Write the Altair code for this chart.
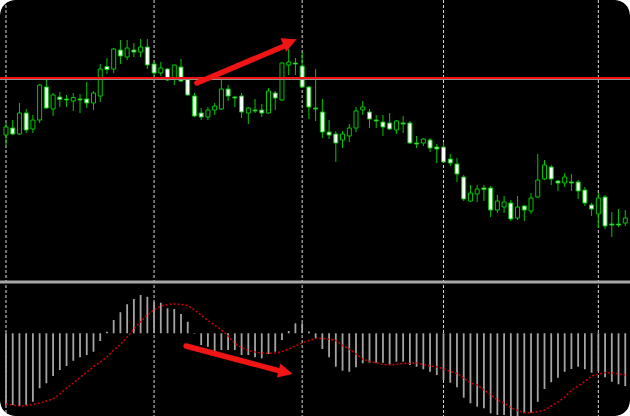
import altair as alt
import pandas as pd

# ---- price bars (arbitrary price units) ----
opens = [165, 172, 166, 187, 171, 180, 213, 191, 203, 201, 199, 201, 201, 197, 204, 233.5, 231, 250, 243, 250,
         248, 253, 236, 227, 231, 221, 233, 221, 204, 187, 183, 190, 191, 211, 203, 204, 187, 190, 190, 187,
         207, 200, 235, 237, 234, 213, 192, 188, 168, 166, 160, 164, 172, 190, 188, 180, 178, 177, 170, 177,
         177, 157, 157, 160, 153, 153, 141, 136, 123, 99, 106, 112, 112, 90, 93, 97, 82, 94, 89, 103,
         121, 133, 119, 117, 118, 118, 110, 95, 86, 103, 76, 76, 77]
highs = [177, 180, 197, 191, 185, 216, 221, 207, 208, 205, 207, 206, 218, 209, 236, 242, 252, 260, 260, 257,
         261, 261, 238, 238, 232, 235.5, 241, 222, 207, 192, 193, 197, 221, 215, 204, 207, 193, 201, 196, 212,
         209, 237.5, 251, 242, 248, 214, 231, 201, 180, 169, 169, 176, 193, 199, 191, 185, 185, 187, 180, 184,
         179, 164, 162, 162, 156, 158, 146, 142, 125, 115, 115, 115, 114, 105, 104, 100, 104, 95, 107, 146,
         140, 135, 120, 127, 126, 120, 113, 97, 107, 105, 88, 91, 90]
lows = [154, 165, 165, 167, 167, 177, 191, 184, 193, 193, 189, 187, 192, 190, 198, 226, 227, 236, 240, 243,
        243, 231, 223, 224, 219, 215, 218, 204, 183, 180, 180, 185, 190, 199, 193, 182, 176, 187, 183, 186.5,
        190, 199, 225, 225, 212, 181, 179, 162, 161, 138, 152, 158, 168, 185, 172, 172, 164, 170, 166, 167,
        156, 152, 154, 148, 137, 137.5, 134, 118, 99, 98, 98, 99, 83, 87, 87, 79, 80, 79, 86, 102,
        120, 115, 109, 113, 109, 101, 94, 84, 72, 71, 63, 73, 74]
closes = [173, 166, 187, 170, 180, 215, 192, 205, 200.5, 200, 202.5, 200, 197, 207, 231, 230.5, 251, 244, 252, 248,
          253, 235, 227, 232, 220, 235, 219, 205, 184, 183, 190, 194, 211, 204, 202, 188, 192, 189, 187, 209,
          202, 237, 238, 236, 213, 193, 191, 168, 165, 157, 166, 172, 189, 193, 181, 179, 173, 171, 179, 176,
          157, 156, 161, 152, 151, 138, 137, 126, 101, 107, 111, 110.5, 90, 99, 98, 81, 93, 90, 102, 120,
          135, 121, 117, 123, 117, 109, 97, 91, 102, 74, 75, 75, 82]

# ---- MACD oscillator ----
macd_hist = [-71.7, -71.7, -72.7, -71.7, -68.4, -55, -50, -42.7, -36.7, -32.7, -27.4, -24, -21.7, -18.4, -7.7,
             1.6, 13.3, 21, 29, 34.3, 38.3, 36.6, 31.6, 30.6, 25, 24.3, 19.3, 11.6, -0.4, -11.7,
             -13.4, -17.7, -16.7, -16.7, -16.7, -21.7, -21.7, -24, -25, -20.7, -18.4, -6.7, 2.3, 10, 10,
             1.8, -5, -15.7, -24, -33.4, -37.4, -38.4, -34, -30, -29.4, -29.4, -29.4, -31, -28.4, -28.4,
             -31.7, -33.4, -36, -38.4, -41.7, -46.7, -49.4, -54, -64.4, -70, -73.4, -75, -80, -81.7, -81.7,
             -84, -84, -80, -79.4, -68.4, -55.7, -49, -44.4, -38.4, -35.7, -33.4, -36, -39.4, -37.7, -44,
             -48.4, -51, -52.7]
macd_signal = [-70.7, -71.7, -72.7, -72.2, -71.2, -69.7, -67.7, -65.7, -60.7, -54.7, -49.7, -44.2, -38.7, -33.4, -28.7,
               -23.7, -16.7, -11.2, -3.7, 4.3, 11.8, 18.3, 23.3, 27.3, 28.8, 29.3, 29, 27.8, 23.3, 18.3,
               12.8, 8.3, 3.3, -2.7, -10.2, -14.2, -17.2, -18.7, -19.7, -20, -19.7, -18.2, -15.7, -12.7, -9.7,
               -7.2, -5.2, -5.2, -5.9, -7.2, -12.2, -15.7, -20.7, -25.7, -28.2, -29.4, -31.2, -31.7, -31, -30.2,
               -29.9, -29.7, -31.2, -32.7, -33.5, -35.7, -38.2, -40.2, -44.7, -49.7, -51.7, -56.7, -61.7, -66.7, -69.7,
               -74.2, -77.2, -79.4, -79.4, -78.2, -76.7, -72.7, -68.7, -63.7, -57.2, -52.7, -48.2, -42.7, -40.7, -39.4,
               -39.4, -40.7, -41.7]

# session separators (bar numbers) and the horizontal price level
session_starts = [0, 22, 44, 65, 88]
price_level = 222

# trend arrows: price-panel arrow and oscillator-panel arrow
up_arrow_bar = [28.36, 41.37]
up_arrow_price = [217, 254]
up_head = {"bar": 42.19, "price": 257.9, "angle": 336.5}
down_arrow_bar = [26.75, 40.64]
down_arrow_value = [-12.7, -37.5]
down_head = {"bar": 41.55, "value": -39.0, "angle": 14}

GREEN = "#00c800"
RED = "#f01515"
W, H = 630, 416

bars = pd.DataFrame({
    "bar": list(range(len(opens))),
    "open": opens, "high": highs, "low": lows, "close": closes,
    "hist": macd_hist, "signal": macd_signal,
})

x_scale = alt.Scale(domain=[-0.146, 91.96], nice=False, zero=False)
price_scale = alt.Scale(domain=[20, 300], range=[280, 0], nice=False, zero=False)
osc_scale = alt.Scale(domain=[-82.7, 48.3], range=[416, 285], nice=False, zero=False)

X = alt.X("bar:Q", scale=x_scale, axis=None)


def price_y(field):
    return alt.Y(field, type="quantitative", scale=price_scale, axis=None)


def osc_y(field):
    return alt.Y(field, type="quantitative", scale=osc_scale, axis=None)


one_row = pd.DataFrame({"k": [0]})

grid = alt.Chart(pd.DataFrame({"bar": session_starts})).mark_rule(
    color="#d8d8d8", strokeDash=[3, 2], strokeWidth=1
).encode(x=X, y=alt.value(0), y2=alt.value(H))

separator = alt.Chart(one_row).mark_rule(color="#a8a8a8", strokeWidth=3).encode(
    x=alt.value(0), x2=alt.value(W), y=alt.value(282)
)

wicks = alt.Chart(bars).mark_rule(color=GREEN, strokeWidth=1, clip=True).encode(
    x=X, y=price_y("low"), y2="high"
)

bodies = alt.Chart(bars).mark_bar(size=4, stroke=GREEN, strokeWidth=1, clip=True).encode(
    x=X,
    y=price_y("open"),
    y2="close",
    fill=alt.condition("datum.close > datum.open", alt.value("black"), alt.value("white")),
)

level_df = pd.DataFrame({"price": [price_level]})
level_shadow = alt.Chart(pd.DataFrame({"price": [price_level - 1.5]})).mark_rule(
    color="#909090", strokeWidth=1
).encode(x=alt.value(0), x2=alt.value(W), y=price_y("price"))
level_line = alt.Chart(level_df).mark_rule(color=RED, strokeWidth=2).encode(
    x=alt.value(0), x2=alt.value(W), y=price_y("price")
)

hist = alt.Chart(bars).mark_rule(color="#a4a4a4", strokeWidth=1.8, clip=True).encode(
    x=X, y=osc_y("hist"), y2=alt.datum(0)
)

signal = alt.Chart(bars).mark_line(
    color="#d00000", strokeDash=[2, 2], strokeWidth=1.5, clip=True
).encode(x=X, y=osc_y("signal"))

HEAD = "M1,0L-1,-1L-1,1Z"

up_shaft = alt.Chart(pd.DataFrame({"bar": up_arrow_bar, "price": up_arrow_price})).mark_line(
    color=RED, strokeWidth=5.5, strokeCap="round"
).encode(x=X, y=price_y("price"))
up_tip = alt.Chart(pd.DataFrame([up_head])).mark_point(
    shape=HEAD, size=210, filled=True, color=RED, opacity=1, angle=up_head["angle"]
).encode(x=X, y=price_y("price"))

down_shaft = alt.Chart(pd.DataFrame({"bar": down_arrow_bar, "value": down_arrow_value})).mark_line(
    color=RED, strokeWidth=5.5, strokeCap="round"
).encode(x=X, y=osc_y("value"))
down_tip = alt.Chart(pd.DataFrame([down_head])).mark_point(
    shape=HEAD, size=210, filled=True, color=RED, opacity=1, angle=down_head["angle"]
).encode(x=X, y=osc_y("value"))

# white rounded-corner masks
R = 15
corner_shapes = [
    (0, 0, "M0,0L1,0A1,1 0 0 0 0,1Z"),
    (W, 0, "M0,0L0,1A1,1 0 0 0 -1,0Z"),
    (0, H, "M0,0L0,-1A1,1 0 0 0 1,0Z"),
    (W, H, "M0,0L-1,0A1,1 0 0 0 0,-1Z"),
]
corners = [
    alt.Chart(one_row).mark_point(
        shape=path, size=(2 * R) ** 2, filled=True, color="white", opacity=1, strokeWidth=0
    ).encode(x=alt.value(cx), y=alt.value(cy))
    for cx, cy, path in corner_shapes
]

chart = alt.layer(
    grid, separator, wicks, bodies, level_shadow, level_line, hist, signal,
    up_shaft, up_tip, down_shaft, down_tip, *corners
).resolve_scale(y="independent").properties(
    width=W, height=H, padding=0, autosize="none", background="white"
).configure_view(fill="black", strokeWidth=0, cornerRadius=R)

chart.save("out.html", embed_options={"renderer": "svg", "actions": False})
